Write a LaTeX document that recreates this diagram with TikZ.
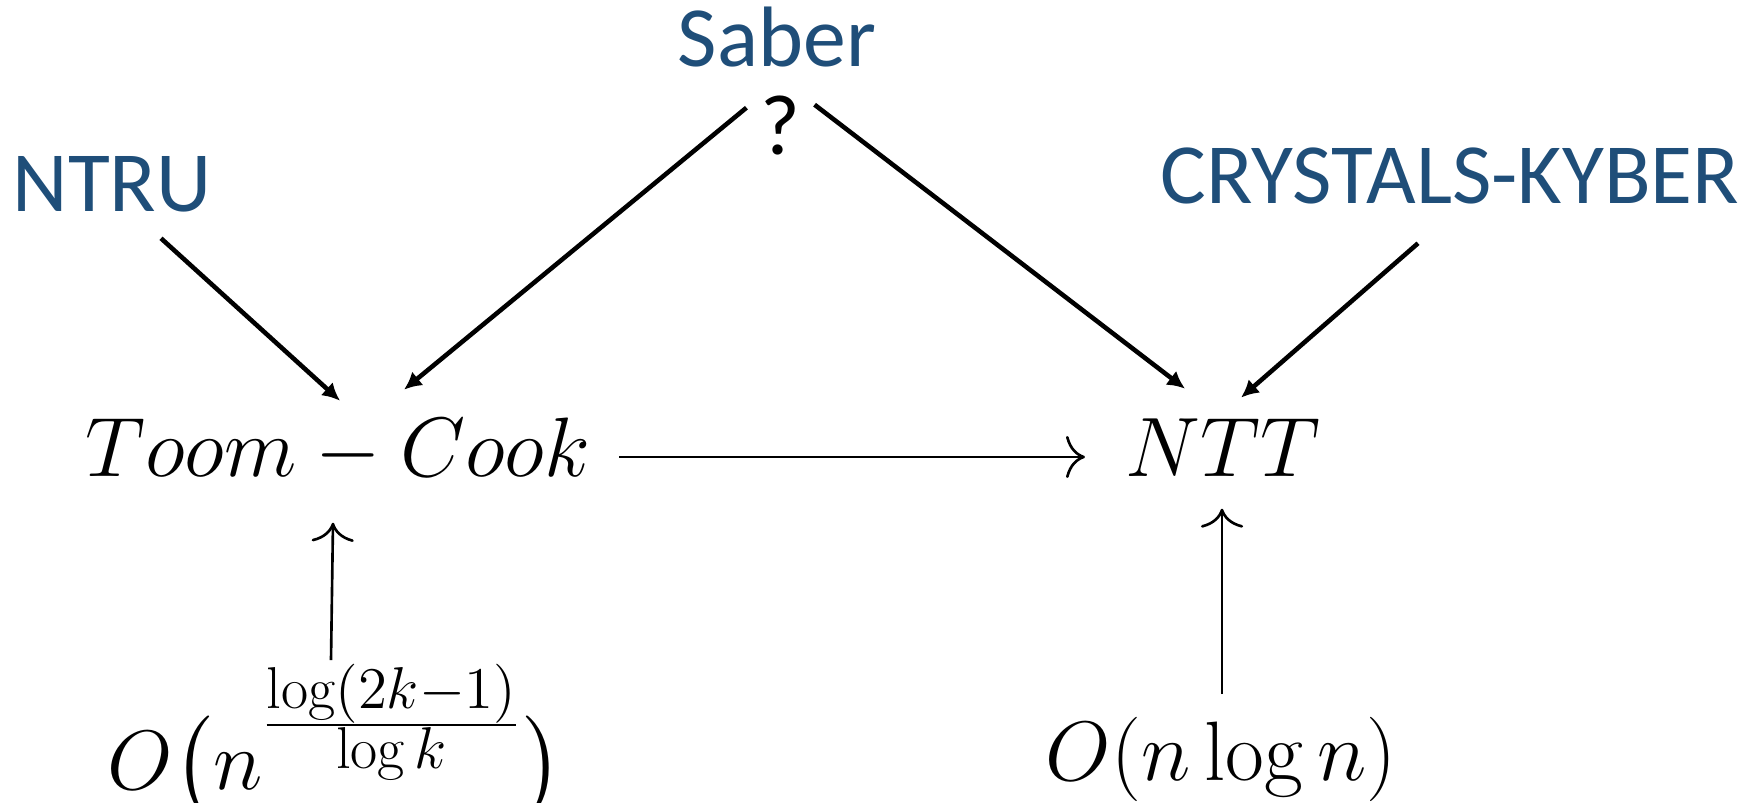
\documentclass[tikz,border=0pt]{standalone}
\usepackage{fix-cm}
\usepackage{amsmath}
\usepackage{fontspec}
\newfontfamily\slidefont{Carlito}
\usetikzlibrary{arrows.meta,calc}
\definecolor{schemeblue}{HTML}{1F4E79}

\begin{document}
\begin{tikzpicture}[x=0.1mm,y=-0.1mm,
    every node/.style={inner sep=0pt,anchor=base},
    scheme/.style={text=schemeblue,font=\slidefont\fontsize{24.4}{29}\selectfont},
    plainlabel/.style={font=\slidefont\fontsize{24.4}{29}\selectfont},
    algo/.style={font=\fontsize{24}{29}\selectfont},
    thickarr/.style={-{Latex[length=5pt,width=5pt]},line width=1.3pt},
    thinarr/.style={-{Computer Modern Rightarrow[length=5.4pt,width=12pt]},line width=0.75pt}]
    \useasboundingbox (0,0) rectangle (1754,803);
    \node[scheme] (saber) at (777,67) {Saber};
    \node[plainlabel] (quest) at (780,155) {?};
    \node[scheme] (ntru) at (112,212) {NTRU};
    \node[scheme] (kyber) at (1450,204) {CRYSTALS-KYBER};
    \node[algo] (toom) at (338,477) {$Toom-Cook$};
    \node[algo] (ntt) at (1223,477) {$NTT$};
    \node[algo] (toomcost) at (335,790) {$O\bigl(n^{\scriptscriptstyle\frac{\scriptstyle\log(2k-1)}{\scriptstyle\log k}}\bigr)$};
    \node[algo] (nttcost) at (1221,781) {$O(n\log n)$};
    \draw[thickarr] ($(ntru.south)+(49,25)$) -- ($(toom.north)+(2,-17)$);
    \draw[thickarr] ($(quest.north west)+(-13,12)$) -- ($(toom.north)+(66,-28)$);
    \draw[thickarr] ($(quest.north east)+(14,9)$) -- ($(ntt.north)+(-38,-30)$);
    \draw[thickarr] ($(kyber.south)+(-32,38)$) -- ($(ntt.north)+(18,-21)$);
    \draw[thinarr] ($(toom.base east)+(28,-20)$) -- ($(ntt.base west)+(-40,-20)$);
    \draw[thinarr] ($(toomcost.north)+(-4,-3)$) -- ($(toom.south)+(-5,38)$);
    \draw[thinarr] ($(nttcost.north)+(1,-23)$) -- ($(ntt.south)+(-1,31)$);
\end{tikzpicture}
\end{document}
